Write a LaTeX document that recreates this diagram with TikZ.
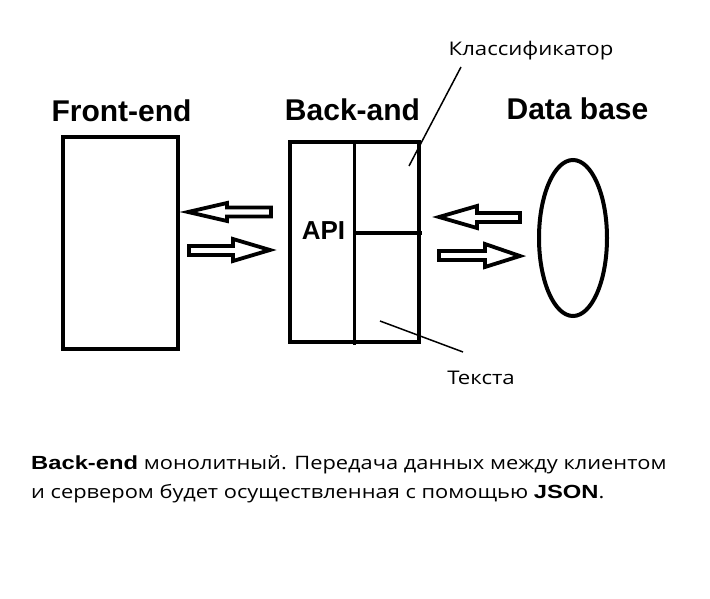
\documentclass[tikz,border=0pt]{standalone}
\usepackage{fontspec}
\usetikzlibrary{shapes.geometric}
\setmainfont{Open Sans}[FakeStretch=1.18]
\newfontfamily\arialf{Liberation Sans}
\newfontfamily\arialwide{Liberation Sans Bold}[FakeStretch=1.25]
\tikzset{
  box/.style={draw, line width=4pt, inner sep=0pt, minimum width=#1},
  title/.style={font=\arialf\bfseries\fontsize{30}{34}\selectfont, inner sep=0pt, anchor=base},
  lbl/.style={font=\fontsize{18.8}{22}\selectfont, inner sep=0pt, anchor=base},
  body/.style={font=\fontsize{18.5}{22}\selectfont, inner sep=0pt, anchor=base west},
  thinline/.style={line width=1.5pt},
  barrow/.style={draw, line width=3.8pt, fill=white, line join=miter},
}
\begin{document}
\begin{tikzpicture}[x=1pt,y=-1pt]
\useasboundingbox[fill=white] (0,0) rectangle (710,599);
% titles
\node[title] (tfe) at (121.5,122) {Front-end};
\node[title] (tba) at (352.5,121) {Back-and};
\node[title] (tdb) at (577.5,120) {Data base};
% front-end box
\node[box=115pt, minimum height=212pt] (fe) at (120.5,243) {};
% back-end box
\node[box=129pt, minimum height=200pt] (be) at (354.5,242) {};
\coordinate (vtop) at (354,142);
\coordinate (vbot) at (354,345);
\draw[line width=3pt] (vtop) -- (vbot);
\coordinate (hl) at (354,233);
\coordinate (hr) at (422,233);
\draw[line width=4pt] (hl) -- (hr);
\node[font=\arialf\bfseries\fontsize{26}{30}\selectfont, inner sep=0pt, anchor=base] (api) at (323.5,240) {API};
% database
\node[draw, ellipse, line width=4pt, minimum width=68pt, minimum height=156pt, inner sep=0pt] (db) at (573,238) {};
% labels
\node[lbl] (cls) at (531,56) {Классификатор};
\node[lbl] (txt) at (481,384) {Текста};
\coordinate (c1) at (461,67);
\coordinate (c2) at (409,166);
\draw[thinline] (c1) -- (c2);
\coordinate (t1) at (380,321);
\coordinate (t2) at (463,352);
\draw[thinline] (t1) -- (t2);
% block arrows (left side)
\draw[barrow] (188,212) -- (227,203) -- (227,207.5) -- (271,207.5) -- (271,216.5) -- (227,216.5) -- (227,221) -- cycle;
\draw[barrow] (270,250) -- (233,239) -- (233,246) -- (189,246) -- (189,255) -- (233,255) -- (233,261) -- cycle;
% block arrows (right side)
\draw[barrow] (439,217) -- (477,206) -- (477,213) -- (520,213) -- (520,222) -- (477,222) -- (477,228) -- cycle;
\draw[barrow] (520,256) -- (485,244) -- (485,251) -- (439,251) -- (439,260) -- (485,260) -- (485,267) -- cycle;
% bottom text
\node[body] (l1) at (31,469) {{\arialwide\fontsize{19}{22}\selectfont Back-end} монолитный. Передача данных между клиентом};
\node[body] (l2) at (31,498) {и сервером будет осуществленная с помощью {\arialwide\fontsize{19}{22}\selectfont JSON}.};
\end{tikzpicture}
\end{document}
